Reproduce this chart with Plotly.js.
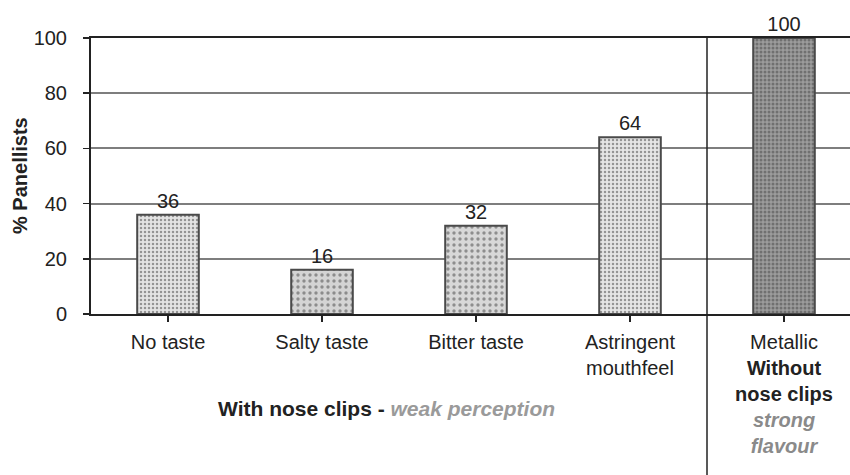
<!DOCTYPE html>
<html>
<head>
<meta charset="utf-8">
<script src="https://cdn.plot.ly/plotly-3.0.1.min.js"></script>
<style>html,body{margin:0;padding:0;background:#fff;}#chart{width:850px;height:475px;}</style>
</head>
<body>
<div id="chart"></div>
<script>
const categories = [
  "No taste",
  "Salty taste",
  "Bitter taste",
  "Astringent<br>mouthfeel",
  "Metallic<br><b>Without</b><br><b>nose clips</b><br><span style='color:#8a8a8a'><b><i>strong</i></b></span><br><span style='color:#8a8a8a'><b><i>flavour</i></b></span>"
];
const values = [36, 16, 32, 64, 100];
const valueLabels = ["36", "16", "32", "64", "100"];
const groupNote = "<b>With nose clips - </b><b><i><span style='color:#9a9a9a'>weak perception</span></i></b>";
const yTitle = "<b>% Panellists</b>";

const xIdx = categories.map((c, i) => i);

const trace = {
  type: "bar",
  x: xIdx,
  y: values,
  width: 0.4,
  text: valueLabels,
  textposition: "outside",
  cliponaxis: false,
  textfont: {family: "Liberation Sans, Arial, sans-serif", size: 20, color: "#222"},
  marker: {
    color: ["#e4e4e4", "#d4d4d4", "#d8d8d8", "#e6e6e6", "#9c9c9c"],
    pattern: {
      shape: [".", ".", ".", ".", "."],
      fgcolor: ["#c8c8c8", "#bdbdbd", "#c0c0c0", "#cdcdcd", "#5e5e5e"],
      size: [4, 6, 6, 4, 4],
      solidity: [0.3, 0.25, 0.25, 0.3, 0.45],
      fillmode: "overlay"
    },
    line: {color: "#4a4a4a", width: 2}
  },
  hoverinfo: "skip"
};

const layout = {
  width: 850,
  height: 475,
  margin: {l: 91, r: 0, t: 38, b: 161},
  paper_bgcolor: "#fff",
  plot_bgcolor: "#fff",
  showlegend: false,
  font: {family: "Liberation Sans, Arial, sans-serif", size: 20, color: "#222"},
  xaxis: {
    range: [-0.5, 4.4286],
    tickmode: "array",
    tickvals: xIdx,
    ticktext: categories,
    tickson: "boundaries",
    ticks: "outside",
    ticklen: 6,
    tickwidth: 1.5,
    tickcolor: "#222",
    showline: true,
    linecolor: "#222",
    linewidth: 2,
    mirror: true,
    showgrid: false,
    zeroline: false,
    tickfont: {size: 20, color: "#222"},
    ticklabelstandoff: 3,
    fixedrange: true
  },
  yaxis: {
    range: [0, 100],
    tickmode: "linear",
    tick0: 0,
    dtick: 20,
    ticks: "outside",
    ticklen: 6,
    tickwidth: 1.5,
    tickcolor: "#222",
    showline: true,
    linecolor: "#222",
    linewidth: 2,
    showgrid: true,
    gridcolor: "#7e7e7e",
    gridwidth: 2,
    zeroline: false,
    tickfont: {size: 20, color: "#222"},
    ticklabelstandoff: 12,
    fixedrange: true
  },
  shapes: [
    {type: "line", xref: "x", yref: "paper", x0: 3.5, x1: 3.5, y0: 1, y1: -0.6, line: {color: "#222", width: 1.5}}
  ],
  annotations: [
    {text: groupNote, xref: "paper", yref: "paper", x: (386 - 91) / 759, y: (314 - 408) / 276, xanchor: "center", yanchor: "middle", showarrow: false, font: {size: 21, color: "#222"}},
    {text: yTitle, xref: "paper", yref: "paper", x: (20 - 91) / 759, y: 0.5, xanchor: "center", yanchor: "middle", textangle: -90, showarrow: false, font: {size: 20, color: "#222"}}
  ]
};

Plotly.newPlot("chart", [trace], layout, {staticPlot: true, displayModeBar: false});
</script>
</body>
</html>
